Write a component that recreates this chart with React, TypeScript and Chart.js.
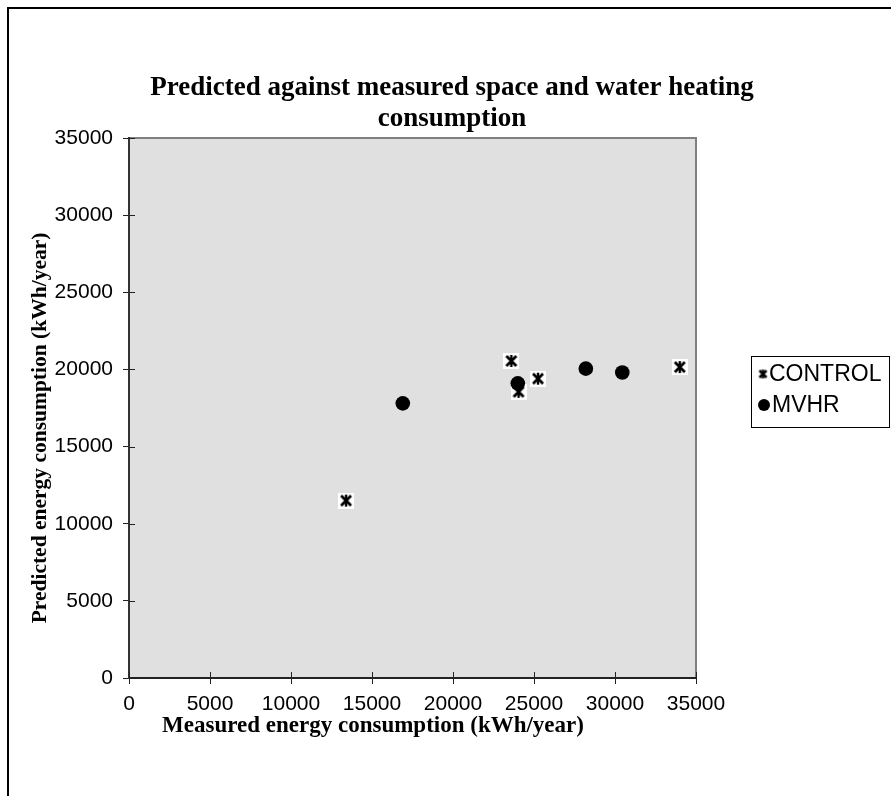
import React, { useEffect, useRef } from 'react';
import Chart from 'chart.js/auto';

const TITLE_LINES = ['Predicted against measured space and water heating', 'consumption'];
const X_TITLE = 'Measured energy consumption (kWh/year)';
const Y_TITLE = 'Predicted energy consumption (kWh/year)';
const SERIES_NAMES = ['CONTROL', 'MVHR'];
const CONTROL_X = [13400, 23600, 24050, 25250, 34000];
const CONTROL_Y = [11500, 20550, 18550, 19400, 20150];
const MVHR_X = [16900, 24000, 28200, 30450];
const MVHR_Y = [17800, 19100, 20050, 19800];
const AXIS_MIN = 0;
const AXIS_MAX = 35000;
const AXIS_STEP = 5000;

const W = 891;
const H = 796;
const SANS = '"Liberation Sans", Arial, sans-serif';
const SERIF = '"Liberation Serif", "Times New Roman", serif';

function makeAsterisk(size: number, bg: boolean, lw: number): HTMLCanvasElement {
  const c = document.createElement('canvas');
  c.width = size;
  c.height = size;
  const g = c.getContext('2d')!;
  if (bg) {
    g.fillStyle = '#ffffff';
    g.fillRect(0, 0, size, size);
  }
  g.strokeStyle = '#000000';
  g.lineWidth = lw;
  const m = 3;
  g.beginPath();
  g.moveTo(m, m);
  g.lineTo(size - m, size - m);
  g.moveTo(size - m, m);
  g.lineTo(m, size - m);
  g.stroke();
  g.lineWidth = lw - 0.4;
  g.beginPath();
  g.moveTo(size / 2, m - 1);
  g.lineTo(size / 2, size - m + 1);
  g.stroke();
  return c;
}

export default function App() {
  const ref = useRef<HTMLCanvasElement | null>(null);

  useEffect(() => {
    const canvas = ref.current;
    if (!canvas) return;
    const star = makeAsterisk(16, true, 2.8);
    const legendStar = makeAsterisk(13, false, 2.5);

    const deco = {
      id: 'deco',
      beforeDraw(chart: any) {
        const { ctx, chartArea: a } = chart;
        ctx.save();
        ctx.fillStyle = '#ffffff';
        ctx.fillRect(0, 0, chart.width, chart.height);
        ctx.strokeStyle = '#000000';
        ctx.lineWidth = 2;
        ctx.beginPath();
        ctx.moveTo(8, chart.height + 4);
        ctx.lineTo(8, 8);
        ctx.lineTo(chart.width + 4, 8);
        ctx.stroke();
        ctx.fillStyle = '#e0e0e0';
        ctx.fillRect(a.left, a.top, a.right - a.left, a.bottom - a.top);
        ctx.strokeStyle = '#808080';
        ctx.lineWidth = 2;
        ctx.beginPath();
        ctx.moveTo(a.left, a.top);
        ctx.lineTo(a.right, a.top);
        ctx.lineTo(a.right, a.bottom);
        ctx.stroke();
        ctx.restore();
      },
      beforeDatasetsDraw(chart: any) {
        const { ctx, chartArea: a, scales } = chart;
        ctx.save();
        ctx.strokeStyle = '#222222';
        ctx.lineWidth = 1;
        ctx.beginPath();
        scales.x.ticks.forEach((t: any) => {
          const px = Math.round(scales.x.getPixelForValue(t.value)) + 0.5;
          ctx.moveTo(px, a.bottom);
          ctx.lineTo(px, a.bottom - 6);
        });
        scales.y.ticks.forEach((t: any) => {
          const py = Math.round(scales.y.getPixelForValue(t.value)) + 0.5;
          ctx.moveTo(a.left, py);
          ctx.lineTo(a.left + 6, py);
        });
        ctx.stroke();
        ctx.restore();
      },
      afterDraw(chart: any) {
        const { ctx } = chart;
        ctx.save();
        ctx.fillStyle = '#000000';
        ctx.textAlign = 'center';
        ctx.textBaseline = 'middle';
        ctx.font = `bold 27px ${SERIF}`;
        ctx.fillText(TITLE_LINES[0], 452, 88);
        ctx.fillText(TITLE_LINES[1], 452, 119);
        ctx.font = `bold 23px ${SERIF}`;
        ctx.fillText(X_TITLE, 373, 726);
        ctx.font = `bold 21.5px ${SERIF}`;
        ctx.save();
        ctx.translate(40, 428);
        ctx.rotate(-Math.PI / 2);
        ctx.fillText(Y_TITLE, 0, 0);
        ctx.restore();
        // legend
        ctx.strokeStyle = '#000000';
        ctx.lineWidth = 1;
        ctx.strokeRect(751.5, 356.5, 138, 71);
        ctx.font = `23px ${SANS}`;
        ctx.textAlign = 'left';
        const rows = [374, 405];
        chart.data.datasets.forEach((ds: any, i: number) => {
          const y = rows[i];
          if (ds.pointStyle instanceof HTMLCanvasElement) {
            ctx.drawImage(legendStar, 763 - 6.5, y - 6.5);
          } else {
            ctx.beginPath();
            ctx.arc(764, y, 6, 0, Math.PI * 2);
            ctx.fillStyle = '#000000';
            ctx.fill();
          }
          ctx.fillStyle = '#000000';
          ctx.fillText(ds.label, i === 0 ? 769 : 772, y + 1);
        });
        ctx.restore();
      },
    };

    const chart = new Chart(canvas, {
      type: 'scatter',
      data: {
        datasets: [
          {
            label: SERIES_NAMES[0],
            data: CONTROL_X.map((x, i) => ({ x, y: CONTROL_Y[i] })),
            pointStyle: star as any,
            pointRadius: 8,
            order: 2,
          },
          {
            label: SERIES_NAMES[1],
            data: MVHR_X.map((x, i) => ({ x, y: MVHR_Y[i] })),
            pointStyle: 'circle',
            pointRadius: 7.3,
            backgroundColor: '#000000',
            borderColor: '#000000',
            borderWidth: 0,
            order: 1,
          },
        ],
      },
      options: {
        responsive: false,
        animation: false,
        devicePixelRatio: 1,
        layout: { padding: { left: 0, top: 138, right: W - 696, bottom: 0 } },
        plugins: {
          legend: { display: false },
          title: { display: false },
          tooltip: { enabled: false },
        },
        scales: {
          x: {
            type: 'linear',
            min: AXIS_MIN,
            max: AXIS_MAX,
            afterFit: (s: any) => {
              s.height = H - 678;
            },
            ticks: {
              stepSize: AXIS_STEP,
              color: '#000000',
              font: { family: SANS, size: 21 },
              padding: 8,
              maxRotation: 0,
              autoSkip: false,
              callback: (v: any) => String(v),
            },
            grid: { drawOnChartArea: false, drawTicks: true, tickLength: 6, color: '#222222', lineWidth: 1 },
            border: { display: true, color: '#222222', width: 2 },
          },
          y: {
            type: 'linear',
            min: AXIS_MIN,
            max: AXIS_MAX,
            afterFit: (s: any) => {
              s.width = 129;
            },
            ticks: {
              stepSize: AXIS_STEP,
              color: '#000000',
              font: { family: SANS, size: 21 },
              padding: 10,
              autoSkip: false,
              callback: (v: any) => String(v),
            },
            grid: { drawOnChartArea: false, drawTicks: true, tickLength: 6, color: '#222222', lineWidth: 1 },
            border: { display: true, color: '#333333', width: 2 },
          },
        },
      },
      plugins: [deco],
    });
    return () => chart.destroy();
  }, []);

  return (
    <canvas
      ref={ref}
      width={W}
      height={H}
      style={{ position: 'absolute', left: 0, top: 0, width: W, height: H, display: 'block' }}
    />
  );
}
